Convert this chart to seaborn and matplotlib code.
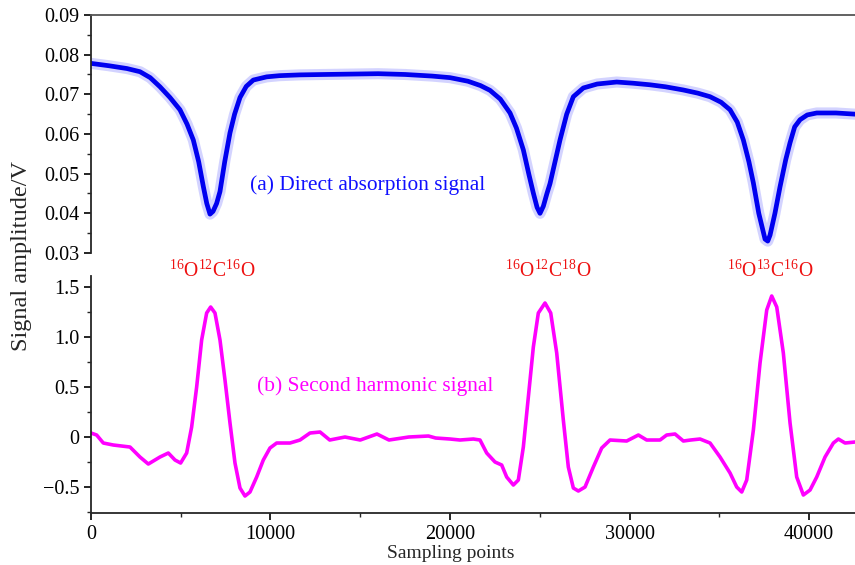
import matplotlib
matplotlib.use("Agg")
import matplotlib.pyplot as plt
from matplotlib.ticker import MultipleLocator, FuncFormatter
import seaborn as sns
import pandas as pd

# (a) direct absorption signal: sampling point -> amplitude (V)
abs_x = [0, 1000, 2000, 2730, 3300, 3844, 4400, 4958, 5350, 5700, 6000, 6257, 6450,
         6630, 6800, 7000, 7187, 7450, 7744, 8000, 8301, 8650, 9044, 9786, 10500,
         11643, 13000, 14500, 16000, 17500, 19000, 20000, 21000, 21700, 22228, 22800,
         23343, 23700, 24085, 24400, 24642, 24850, 25014, 25200, 25400, 25571, 25850,
         26128, 26500, 26870, 27427, 28200, 29285, 30200, 31142, 32000, 32986, 33800,
         34485, 35100, 35599, 36000, 36340, 36650, 36897, 37200, 37549, 37700, 37827,
         38100, 38384, 38700, 38941, 39200, 39499, 39900, 40428, 41500, 42560]
abs_v = [0.0778, 0.0772, 0.0765, 0.0757, 0.0742, 0.0719, 0.0692, 0.0661, 0.0625, 0.0585,
         0.0530, 0.0468, 0.0425, 0.0398, 0.0405, 0.0425, 0.0455, 0.0530, 0.0603, 0.0650,
         0.0692, 0.0720, 0.0736, 0.0744, 0.0747, 0.0749, 0.0750, 0.0751, 0.0752, 0.0750,
         0.0746, 0.0742, 0.0733, 0.0722, 0.0710, 0.0688, 0.0653, 0.0615, 0.0560, 0.0497,
         0.0451, 0.0415, 0.0400, 0.0418, 0.0450, 0.0475, 0.0530, 0.0585, 0.0650, 0.0694,
         0.0716, 0.0726, 0.0731, 0.0728, 0.0724, 0.0719, 0.0711, 0.0703, 0.0694, 0.0680,
         0.0661, 0.0630, 0.0585, 0.0530, 0.0477, 0.0400, 0.0335, 0.0330, 0.0345, 0.0400,
         0.0467, 0.0535, 0.0578, 0.0618, 0.0636, 0.0648, 0.0653, 0.0653, 0.0650]

# (b) second harmonic signal: sampling point -> amplitude (V)
harm_x = [0, 316, 687, 1244, 2173, 2730, 3194, 3844, 4308, 4680, 4994, 5330, 5608, 5887,
          6165, 6444, 6667, 6908, 7187, 7465, 7744, 8022, 8301, 8579, 8858, 9230, 9600,
          9972, 10344, 11086, 11643, 12200, 12760, 13300, 14150, 15000, 15930, 16600,
          17700, 18800, 19200, 20000, 20557, 21300, 21671, 22043, 22507, 22879, 23157,
          23529, 23806, 24085, 24364, 24642, 24920, 25292, 25610, 25944, 26312, 26591,
          26870, 27149, 27521, 27985, 28450, 28914, 29842, 30492, 30956, 31699, 32071,
          32535, 32999, 33400, 33928, 34485, 35042, 35599, 35971, 36250, 36528, 36899,
          37270, 37643, 37920, 38201, 38568, 38942, 39313, 39683, 40056, 40428, 40891,
          41355, 41634, 42006, 42563]
harm_v = [0.04, 0.02, -0.06, -0.08, -0.10, -0.20, -0.27, -0.20, -0.16, -0.23, -0.26, -0.16,
          0.10, 0.50, 0.97, 1.24, 1.30, 1.24, 0.97, 0.57, 0.14, -0.26, -0.51, -0.59, -0.55,
          -0.40, -0.23, -0.11, -0.06, -0.06, -0.03, 0.04, 0.05, -0.03, 0.00, -0.03, 0.03,
          -0.03, 0.00, 0.01, -0.01, -0.02, -0.03, -0.02, -0.03, -0.16, -0.25, -0.28, -0.40,
          -0.48, -0.43, -0.10, 0.40, 0.90, 1.24, 1.34, 1.24, 0.84, 0.17, -0.30, -0.51, -0.54,
          -0.50, -0.30, -0.11, -0.03, -0.04, 0.02, -0.03, -0.03, 0.02, 0.03, -0.04, -0.03,
          -0.02, -0.06, -0.20, -0.36, -0.50, -0.55, -0.43, 0.07, 0.74, 1.27, 1.41, 1.30,
          0.84, 0.14, -0.40, -0.58, -0.53, -0.40, -0.20, -0.06, -0.02, -0.06, -0.05]

# isotopologue labels and their line centres
iso_labels = [r"$^{\mathrm{16}}$O$^{\mathrm{12}}$C$^{\mathrm{16}}$O",
              r"$^{\mathrm{16}}$O$^{\mathrm{12}}$C$^{\mathrm{18}}$O",
              r"$^{\mathrm{16}}$O$^{\mathrm{13}}$C$^{\mathrm{16}}$O"]
iso_pos = [6750, 25450, 37850]

sns.set_style("ticks")
plt.rcParams["font.family"] = ["Liberation Serif", "DejaVu Serif"]
plt.rcParams["mathtext.fontset"] = "custom"
plt.rcParams["mathtext.rm"] = "Liberation Serif"
plt.rcParams["axes.unicode_minus"] = True

FS = 14.5
fig = plt.figure(figsize=(8.55, 5.65), dpi=100)
ax1 = fig.add_axes([0.1064, 0.5522, 0.8936, 0.4213])
ax2 = fig.add_axes([0.1064, 0.0920, 0.8936, 0.4195], sharex=ax1)

df_abs = pd.DataFrame({"x": abs_x, "v": abs_v})
df_harm = pd.DataFrame({"x": harm_x, "v": harm_v})

# noisy absorption trace: broad translucent band under a dense core
sns.lineplot(data=df_abs, x="x", y="v", ax=ax1, color="#3a3aff", lw=8, alpha=0.22,
             sort=False, estimator=None, solid_joinstyle="round")
sns.lineplot(data=df_abs, x="x", y="v", ax=ax1, color="#0000f0", lw=3.4,
             sort=False, estimator=None, solid_joinstyle="round")
sns.lineplot(data=df_harm, x="x", y="v", ax=ax2, color="#ff00ff", lw=2.6,
             sort=False, estimator=None, solid_joinstyle="round",
             solid_capstyle="round")

ax1.set_xlim(0, 42560)
ax1.set_ylim(0.03, 0.09)
ax2.set_ylim(-0.76, 1.61)

for ax in (ax1, ax2):
    ax.set_xlabel("")
    ax.set_ylabel("")
    ax.spines["right"].set_visible(False)
    for s in ax.spines.values():
        s.set_linewidth(1.3)
    ax.tick_params(which="major", direction="out", length=5, width=1.2,
                   labelsize=FS, colors="black")
    ax.tick_params(which="minor", direction="out", length=3, width=1.0)

ax1.spines["bottom"].set_visible(False)
ax1.spines["top"].set_color("#555555")
ax1.tick_params(axis="x", which="both", bottom=False, labelbottom=False)
ax1.yaxis.set_major_locator(MultipleLocator(0.01))
ax1.yaxis.set_minor_locator(MultipleLocator(0.005))
ax1.yaxis.set_major_formatter(FuncFormatter(lambda v, p: f"{v:.2f}"))

ax2.spines["top"].set_visible(False)
ax2.yaxis.set_major_locator(MultipleLocator(0.5))
ax2.yaxis.set_minor_locator(MultipleLocator(0.25))
ax2.yaxis.set_major_formatter(
    FuncFormatter(lambda v, p: "0" if abs(v) < 1e-9 else f"{v:.1f}".replace("-", "\u2212")))
ax2.xaxis.set_major_locator(MultipleLocator(10000))
ax2.xaxis.set_minor_locator(MultipleLocator(5000))
ax2.xaxis.set_major_formatter(FuncFormatter(lambda v, p: f"{int(v)}"))

ax1.text(8858, 0.0472, "(a) Direct absorption signal", color="#1010ff",
         fontsize=15.4, va="center", ha="left")
ax2.text(9248, 0.51, "(b) Second harmonic signal", color="#ff00ff",
         fontsize=15.4, va="center", ha="left")
for lab, xp in zip(iso_labels, iso_pos):
    ax2.text(xp, 1.665, lab, color="#ee1111", fontsize=14.2, ha="center",
             va="center", clip_on=False)

ax2.set_xlabel("Sampling points", fontsize=14)
ax2.xaxis.set_label_coords((451 - 91) / (855 - 91), -0.135)
fig.text(22 / 855, 1 - 256 / 565, "Signal amplitude/V", rotation=90,
         fontsize=17.5, ha="center", va="center")

fig.savefig("out.png", dpi=100)
